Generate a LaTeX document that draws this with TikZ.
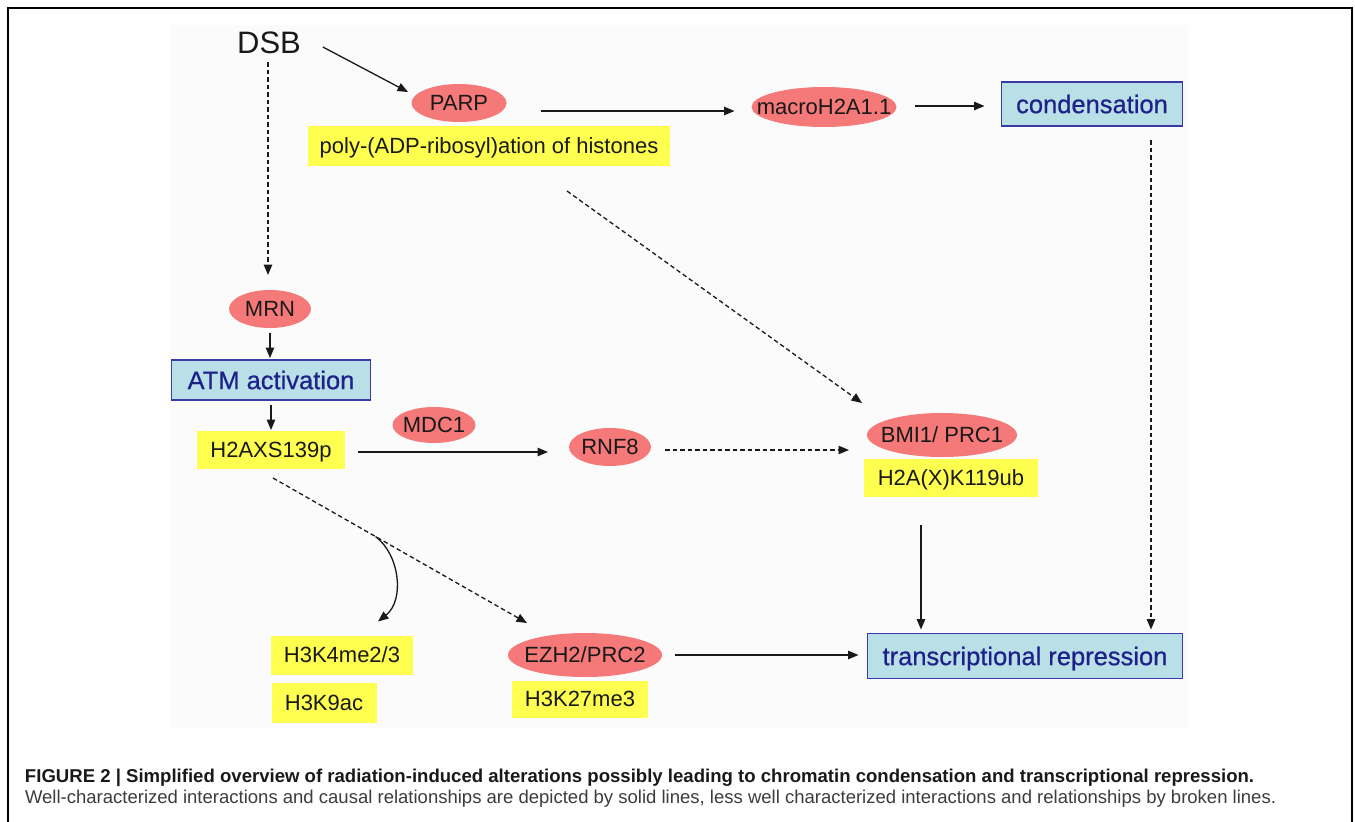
\documentclass[tikz,border=0pt]{standalone}
\usepackage{graphicx}
\usepackage{fontspec}
\setmainfont{Liberation Sans}
\newfontfamily\heavyfont{Liberation Sans}[FakeBold=0.6]
\usetikzlibrary{shapes.geometric,arrows.meta}
\definecolor{ellred}{RGB}{245,121,121}
\definecolor{ylw}{RGB}{255,255,80}
\definecolor{bfill}{RGB}{184,224,230}
\definecolor{bdraw}{RGB}{58,58,168}
\definecolor{btext}{RGB}{32,32,138}
\definecolor{panel}{RGB}{251,251,251}
\definecolor{capgray}{RGB}{60,60,60}
\definecolor{ink}{RGB}{25,25,25}
\begin{document}
\begin{tikzpicture}[x=1pt,y=-1pt,
  every node/.style={inner sep=0pt, outer sep=0pt, text height=15.8pt, text depth=0pt, align=center},
  lbl/.style={font=\fontsize{22}{26}\selectfont, text=ink},
  ell/.style={lbl, ellipse, fill=ellred, inner xsep=-40pt, inner ysep=-30pt},
  ybox/.style={lbl, rectangle, fill=ylw},
  bbox/.style={rectangle, fill=bfill, draw=bdraw, line width=1.3pt, text=btext,
    font=\heavyfont\fontsize{25.5}{30}\selectfont, text height=18.3pt},
  arr/.style={draw=ink, line width=1.3pt, -{Triangle[length=10.5pt,width=8.5pt]}},
  darr/.style={arr, dash pattern=on 4.5pt off 3pt},
]
\useasboundingbox (0,0) rectangle (1355,822);
\fill[white] (0,0) rectangle (1355,822);
\fill[panel] (170,25) rectangle (1188,728);
\draw[line width=2pt, line join=miter] (8,822) -- (8,8) -- (1351.5,8) -- (1351.5,822);

% nodes
\node[font=\fontsize{31}{35}\selectfont, text=ink, text height=22pt] (dsb) at (269,42) {DSB};
\node[ell, minimum width=95pt, minimum height=38pt] (parp) at (459,103) {PARP};
\node[ybox, minimum width=362pt, minimum height=40pt] (poly) at (489,146) {poly-(ADP-ribosyl)ation of histones};
\node[ell, minimum width=145pt, minimum height=40pt] (macro) at (824,107) {macroH2A1.1};
\node[bbox, minimum width=181pt, minimum height=44pt] (cond) at (1092,104) {condensation};
\node[ell, minimum width=82pt, minimum height=38pt] (mrn) at (270,309) {MRN};
\node[bbox, minimum width=199pt, minimum height=40pt] (atm) at (271,380) {ATM activation};
\node[ybox, minimum width=148pt, minimum height=38pt] (h2ax) at (271,450) {H2AXS139p};
\node[ell, minimum width=83pt, minimum height=36pt] (mdc1) at (434,425) {MDC1};
\node[ell, minimum width=82pt, minimum height=38pt] (rnf8) at (610,447) {RNF8};
\node[ell, minimum width=150pt, minimum height=44pt] (bmi) at (942,435) {BMI1/ PRC1};
\node[ybox, minimum width=174pt, minimum height=38pt] (h2aub) at (951,478) {H2A(X)K119ub};
\node[bbox, minimum width=315pt, minimum height=45pt] (trep) at (1025,656) {transcriptional repression};
\node[ell, minimum width=154pt, minimum height=44pt] (ezh2) at (585,655) {EZH2/PRC2};
\node[ybox, minimum width=136pt, minimum height=37pt] (h3k27) at (580,699) {H3K27me3};
\node[ybox, minimum width=142pt, minimum height=39pt] (h3k4) at (342,655) {H3K4me2/3};
\node[ybox, minimum width=105pt, minimum height=40pt] (h3k9) at (324,703) {H3K9ac};

% connectors
\draw[arr] ([shift={(22,5)}]dsb.east) -- ([shift={(-3.5,-11)}]parp.west);
\draw[arr] ([shift={(34,8)}]parp.east) -- ([shift={(-17,4)}]macro.west);
\draw[arr] ([shift={(18,-1)}]macro.east) -- ([shift={(-17,2)}]cond.west);
\draw[darr] ([shift={(59,14)}]cond.south) -- ([shift={(126,-4)}]trep.north);
\draw[darr] ([shift={(-1,9)}]dsb.south) -- ([shift={(-2,-15)}]mrn.north);
\draw[arr] ([shift={(0,5)}]mrn.south) -- ([shift={(-1,-2)}]atm.north);
\draw[arr] ([shift={(0,5)}]atm.south) -- ([shift={(0,-1)}]h2ax.north);
\draw[arr] ([shift={(13,2)}]h2ax.east) -- ([shift={(-21,5)}]rnf8.west);
\draw[darr] ([shift={(14,3)}]rnf8.east) -- ([shift={(-18,15)}]bmi.west);
\draw[darr] ([shift={(78,25)}]poly.south) -- ([shift={(-80,-10)}]bmi.north);
\draw[arr] ([shift={(-30,28)}]h2aub.south) -- ([shift={(-104,-4)}]trep.north);
\draw[darr] ([shift={(2,9)}]h2ax.south) -- coordinate[pos=0.404] (branch) ([shift={(-58,-10)}]ezh2.north);
\draw[arr] (branch) .. controls ([shift={(24,18)}]branch) and ([shift={(63,-35.5)}]h3k4.north) .. ([shift={(36,-14)}]h3k4.north);
\draw[arr] ([shift={(13,0)}]ezh2.east) -- ([shift={(-9,-1)}]trep.west);

% caption
\node[anchor=base west, text height=, text depth=, text=ink] (cap1) at (25,782)
  {\resizebox{1229pt}{!}{\bfseries FIGURE 2 | Simplified overview of radiation-induced alterations possibly leading to chromatin condensation and transcriptional repression.}};
\node[anchor=base west, text height=, text depth=, text=capgray] (cap2) at (25,803)
  {\resizebox{1251pt}{!}{Well-characterized interactions and causal relationships are depicted by solid lines, less well characterized interactions and relationships by broken lines.}};
\end{tikzpicture}
\end{document}
